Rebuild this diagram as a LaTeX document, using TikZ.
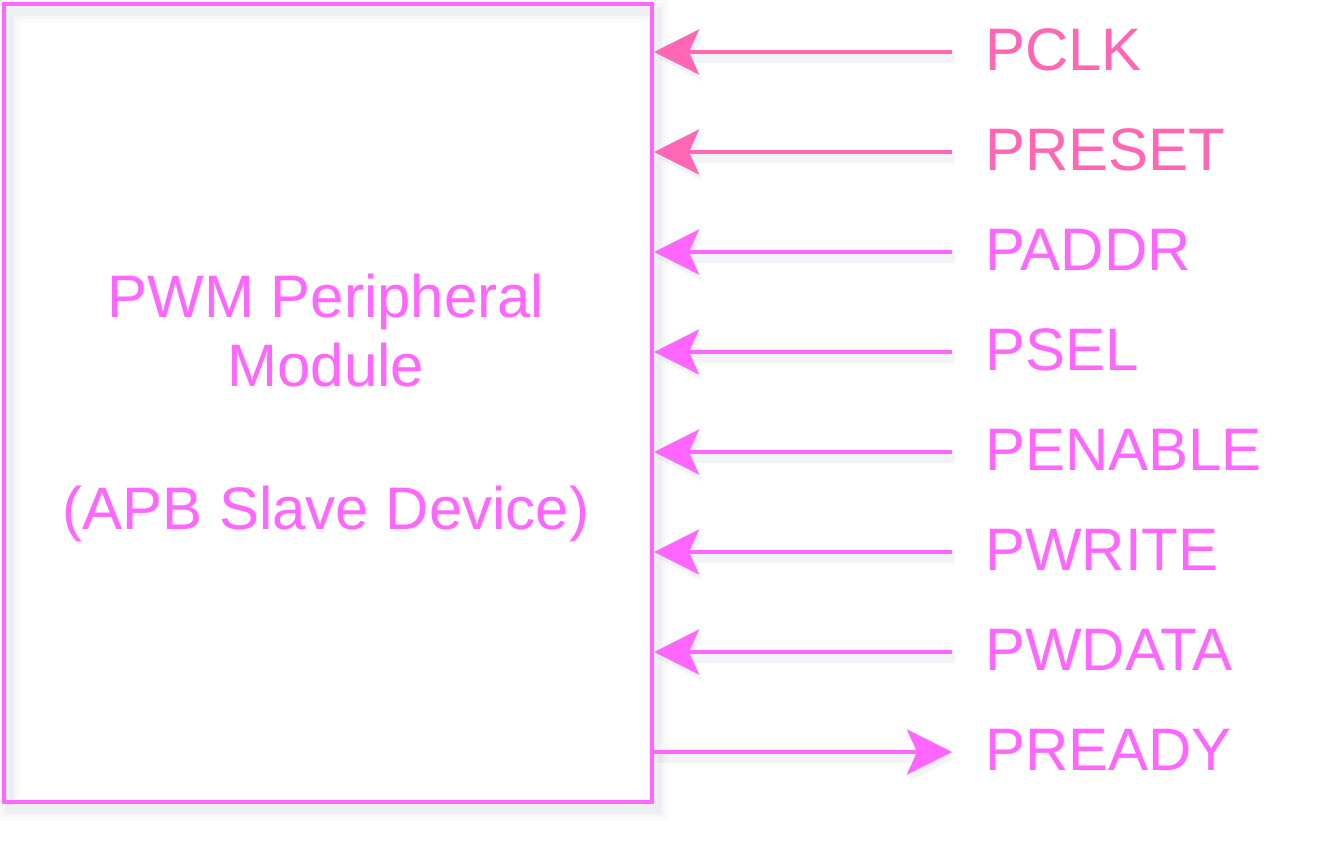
\documentclass[tikz,border=0pt]{standalone}
\usepackage{fontspec}
\setmainfont{Liberation Sans}
\usepackage{tikz}
\usetikzlibrary{arrows.meta, positioning}
\definecolor{clkpink}{HTML}{FF66B3}
\definecolor{apbmag}{HTML}{FF66FF}
\definecolor{shadegray}{HTML}{8E93AC}

\begin{document}
\begin{tikzpicture}[x=1pt, y=-1pt,
    sig/.style={line width=4pt, -{Stealth[length=45pt, width=45pt, inset=10pt]},
        preaction={draw=shadegray, line width=10pt, opacity=0.10,
            transform canvas={shift={(3pt,-6pt)}}}},
    lbl/.style={anchor=west, inner xsep=33pt, inner ysep=0pt,
        text height=42pt, text depth=6pt, font=\fontsize{60}{70}\selectfont}]

    \useasboundingbox (0,0) rectangle (1320,860);

    % =================================================================
    % 1. BÓNG MỜ CỦA KHỐI (SHADOW)
    % =================================================================
    \foreach \w/\o in {24/0.04, 16/0.05, 9/0.07}
        \draw[shadegray, line width=\w pt, opacity=\o] (9,11) rectangle (657,809);

    % =================================================================
    % 2. KHỐI PWM (APB SLAVE)
    % =================================================================
    \node[draw=apbmag, line width=4pt, minimum width=648pt, minimum height=798pt]
        (box) at (328,403) {};
    \node[align=center, text=apbmag, font=\fontsize{60}{69}\selectfont]
        (title) at (326,408) {PWM Peripheral\\Module\\[74pt](APB Slave Device)};

    % =================================================================
    % 3. CÁC TÍN HIỆU VÀO / RA
    % =================================================================
    \foreach \sname/\scol [count=\i] in {PCLK/clkpink, PRESET/clkpink,
        PADDR/apbmag, PSEL/apbmag, PENABLE/apbmag, PWRITE/apbmag, PWDATA/apbmag} {
        \node[lbl, text=\scol] (\sname) at (952, {52+100*(\i-1)}) {\sname};
        \draw[sig, \scol] (\sname.west) -- (\sname.west -| box.east);
    }

    % Tín hiệu ra
    \node[lbl, text=apbmag] (PREADY) at (952,752) {PREADY};
    \draw[sig, apbmag] (PREADY.west -| box.east) -- (PREADY.west);

\end{tikzpicture}
\end{document}
